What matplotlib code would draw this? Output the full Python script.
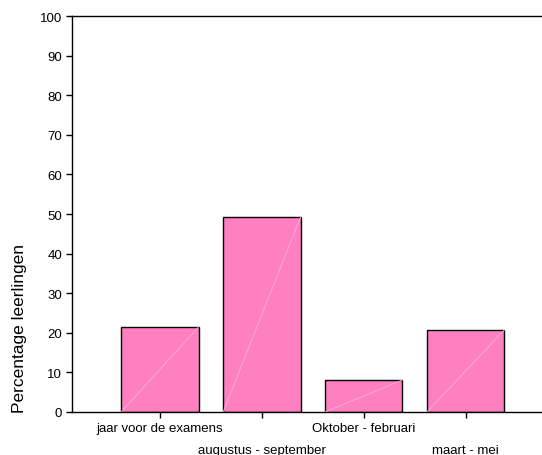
import matplotlib
matplotlib.use("Agg")
import matplotlib.pyplot as plt
import numpy as np

categories = ["jaar voor de examens", "augustus - september", "Oktober - februari", "maart - mei"]
values = [21.5, 49.2, 8.1, 20.7]
yticks = [0, 10, 20, 30, 40, 50, 60, 70, 80, 90, 100]

plt.rcParams['font.family'] = ['Liberation Sans', 'DejaVu Sans']

fig = plt.figure(figsize=(5.42, 4.56), dpi=100)
ax = fig.add_axes([0.1328, 0.0943, 0.8672, 0.8684])

x = np.arange(len(categories))
width = 0.76
bars = ax.bar(x, values, width=width, color='#FF80C0', edgecolor='black', linewidth=1.0, zorder=2)
for b in bars:
    x0, x1 = b.get_x(), b.get_x() + b.get_width()
    ax.plot([x0, x1], [0, b.get_height()], color='#FFB0D8', linewidth=0.6, zorder=3)

ax.set_xlim(-0.863, 3.75)
ax.set_ylim(0, 100)
ax.set_yticks(yticks)
ax.set_yticklabels([str(t) for t in yticks], fontsize=9.5)
ax.set_xticks(x)
ax.set_xticklabels(categories, fontsize=9.5)
for i, lab in enumerate(ax.get_xticklabels()):
    if i % 2 == 1:
        lab.set_y(-0.055)
ax.tick_params(axis='both', direction='out', length=4, width=1, color='black', pad=3)
ax.spines['right'].set_visible(False)
for s in ['left', 'top', 'bottom']:
    ax.spines[s].set_linewidth(1.0)

fig.text(20 / 542, 1 - 413 / 456, "Percentage leerlingen", rotation=90,
         ha='center', va='bottom', fontsize=12.5)

fig.savefig("out.png", dpi=100)
